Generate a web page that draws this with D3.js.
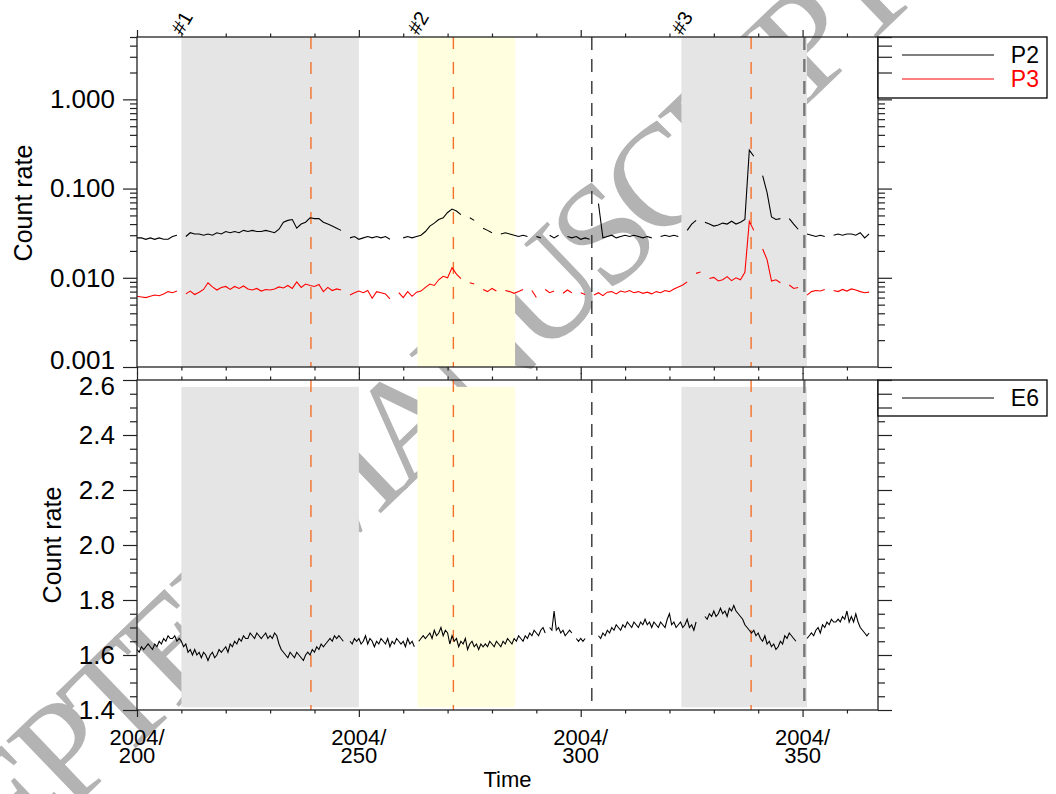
<!DOCTYPE html>
<html>
<head>
<meta charset="utf-8">
<title>Count rates P2, P3, E6</title>
<script src="https://cdn.jsdelivr.net/npm/d3@7"></script>
<style>
  body { margin: 0; background: #fff; }
  svg { display: block; font-family: 'Liberation Sans', Arial, Helvetica, sans-serif; }
  .axis path.domain { display: none; }
  .axis line { stroke: #222; stroke-width: 1.2; }
  .axis text { font-size: 26px; fill: #000; }
  .frame { fill: none; stroke: #222; stroke-width: 1.3; }
</style>
</head>
<body>
<div id="chart"></div>
<script>

// ---- data (day of year 2004) ----
var dayStart = 200;           // P2 / P3 are daily, first value is day 200
var e6Step = 0.5;             // E6 is every half day, first value is day 200

var p2 = [
  0.028,0.028,0.027,0.028,0.027,0.028,0.027,0.027,0.029,0.030,
  null,0.029,0.032,0.031,0.031,0.030,0.031,0.030,0.032,0.031,
  0.033,0.032,0.033,0.032,0.034,0.033,0.034,0.033,0.033,0.034,
  0.033,0.032,0.035,0.042,0.044,0.045,0.036,0.040,0.042,0.047,
  0.046,0.046,0.042,0.040,0.038,0.036,0.034,null,0.028,0.029,
  0.027,0.028,0.029,0.028,0.029,0.028,0.029,0.027,null,null,
  0.028,0.029,0.028,0.029,0.030,0.033,0.038,0.041,0.045,0.047,
  0.054,0.059,0.056,0.051,null,0.047,0.044,null,0.036,0.034,
  0.032,null,0.031,0.032,0.031,0.030,0.029,0.030,0.029,null,
  0.029,0.028,null,0.030,0.028,0.030,null,0.029,0.028,0.029,
  0.027,0.028,0.027,null,0.068,0.028,0.029,0.030,0.028,0.029,
  0.030,0.029,0.030,0.029,0.028,0.029,0.028,null,0.029,0.030,
  0.029,0.030,0.029,null,0.034,0.040,0.044,null,0.042,0.040,
  0.038,0.039,0.041,0.040,0.043,0.040,0.042,0.045,0.27,0.23,
  null,0.14,0.09,0.048,0.045,0.046,null,0.046,0.040,0.035,
  null,0.031,0.030,0.029,0.030,0.029,null,0.030,0.031,0.030,
  0.031,0.031,0.030,0.032,0.028,0.031,null
];

var p3 = [
  0.0062,0.0061,0.0060,0.0062,0.0064,0.0063,0.0066,0.0070,0.0068,0.0071,
  null,0.0066,0.0071,0.0065,0.0069,0.0074,0.0088,0.0079,0.0073,0.0078,
  0.0080,0.0074,0.0080,0.0076,0.0081,0.0075,0.0073,0.0076,0.0071,0.0074,
  0.0073,0.0075,0.0079,0.0077,0.0082,0.0076,0.0090,0.0078,0.0085,0.0082,
  0.0080,0.0084,0.0070,0.0078,0.0072,0.0075,0.0073,null,0.0064,0.0068,
  0.0071,0.0068,0.0072,0.0059,0.0070,0.0068,0.0066,0.0058,null,0.0068,
  0.0060,0.0070,0.0062,0.0069,0.0071,0.0078,0.0085,0.0082,0.0095,0.0104,
  0.0100,0.0130,0.0110,0.0098,null,0.0088,0.0085,null,0.0074,0.0070,
  0.0076,0.0071,null,0.0072,0.0070,0.0067,0.0070,0.0074,null,0.0072,
  0.0060,null,0.0074,0.0068,0.0071,null,0.0067,0.0073,0.0068,null,
  0.0068,0.0065,null,0.0064,0.0068,0.0063,0.0069,0.0070,0.0066,0.0071,
  0.0069,0.0072,0.0068,0.0070,0.0067,0.0069,0.0066,0.0070,0.0068,0.0072,
  0.0070,0.0075,0.0079,0.0083,0.0090,null,0.0112,0.0116,null,0.0098,
  0.0101,0.0092,0.0095,0.0103,0.0093,0.0100,0.0095,0.0115,0.043,0.034,
  null,0.021,0.016,0.0092,0.0095,0.0088,null,0.0083,0.0076,0.0078,
  null,0.0064,0.0070,0.0072,0.0071,0.0074,null,0.0072,0.0070,0.0074,
  0.0071,0.0075,0.0073,0.0070,0.0068,0.0069,null
];

var e6 = [
  1.62,1.61,1.63,1.62,1.63,1.64,1.63,1.62,1.64,1.63,
  1.65,1.64,1.66,1.65,1.67,1.66,1.66,1.67,1.65,1.66,
  1.65,1.63,1.64,1.61,1.62,1.60,1.62,1.60,1.61,1.59,
  1.61,1.60,1.58,1.60,1.61,1.59,1.60,1.62,1.61,1.62,
  1.63,1.61,1.64,1.63,1.65,1.64,1.66,1.65,1.67,1.66,
  1.66,1.68,1.67,1.66,1.68,1.67,1.66,1.67,1.68,1.66,
  1.67,1.66,1.68,1.67,1.64,1.62,1.61,1.60,1.59,1.61,
  1.60,1.59,1.61,1.60,1.59,1.58,1.60,1.61,1.60,1.62,
  1.61,1.63,1.62,1.64,1.63,1.64,1.65,1.66,1.65,1.67,
  1.66,1.67,1.66,1.65,null,null,1.65,1.64,1.66,1.65,
  1.66,1.64,1.65,1.67,1.64,1.66,1.65,1.63,1.65,1.64,
  1.66,1.65,1.64,1.66,1.63,1.65,1.64,1.66,1.65,1.64,
  1.65,1.63,1.66,1.64,1.65,1.63,null,1.65,1.66,1.67,
  1.66,1.67,1.68,1.66,1.69,1.67,1.68,1.70,1.67,1.69,
  1.68,1.64,1.67,1.65,1.66,1.63,1.65,1.64,1.66,1.62,
  1.64,1.65,1.63,1.64,1.62,1.64,1.63,1.64,1.63,1.65,
  1.64,1.63,1.65,1.64,1.63,1.65,1.64,1.66,1.65,1.64,
  1.66,1.65,1.67,1.66,1.65,1.67,1.66,1.68,1.67,1.69,
  1.68,1.67,1.69,1.70,1.68,null,1.70,1.69,1.76,1.69,
  1.70,1.68,1.69,1.67,1.68,1.69,1.68,null,1.66,1.65,
  1.66,1.65,1.66,null,null,null,null,null,1.67,1.66,
  1.68,1.67,1.69,1.68,1.70,1.69,1.71,1.70,1.69,1.71,
  1.70,1.72,1.71,1.70,1.72,1.71,1.70,1.72,1.71,1.73,
  1.71,1.72,1.70,1.72,1.71,1.70,1.72,1.71,1.70,1.73,
  1.75,1.71,1.72,1.70,1.71,1.72,1.70,1.71,1.73,1.70,
  1.71,1.69,1.72,null,null,null,1.74,1.73,1.75,1.74,
  1.76,1.74,1.75,1.77,1.75,1.76,1.74,1.77,1.76,1.78,
  1.76,1.75,1.74,1.73,1.71,1.70,1.69,1.68,1.69,1.67,
  1.68,1.66,1.65,1.67,1.64,1.65,1.63,1.64,1.62,1.63,
  1.65,1.64,1.67,1.66,1.68,1.67,1.66,1.65,null,null,
  null,null,1.66,1.67,1.68,1.67,1.69,1.70,1.68,1.71,
  1.70,1.72,1.71,1.73,1.72,1.72,1.73,1.72,1.74,1.73,
  1.76,1.72,1.74,1.72,1.75,1.72,1.70,1.69,1.68,1.67,
  1.68
];

// event intervals (#1, #2, #3) and marker days
var eventNames = ['#1', '#2', '#3'];
var eventStart = [210, 263.2, 322.7];
var eventEnd   = [250, 285.2, 351];
var shockDays  = [239.2, 271.3, 338.4];   // orange dashed
var otherDays  = [302.5, 350.4];          // dark dashed

var xMajor = [200, 250, 300, 350];
var topMajor = [0.001, 0.01, 0.1, 1];
var botMajor = [1.4, 1.6, 1.8, 2.0, 2.2, 2.4, 2.6];

// ---- layout ----
var W = 1056, H = 794,
    left = 137, right = 878,
    top1 = 37, bot1 = 367,
    top2 = 380, bot2 = 710;

var shadeFill = ['#e5e5e5', '#ffffe0', '#e5e5e5'];
var otherColor = ['#333', '#777'];
var otherWidth = [1.4, 2.4];

var x = d3.scaleLinear().domain([200, 367]).range([left, right]);
var yTop = d3.scaleLog().domain([0.001, 5]).range([bot1, top1]);
var yBot = d3.scaleLinear().domain([1.4, 2.6]).range([bot2, top2]);

var svg = d3.select('#chart').append('svg')
    .attr('width', W)
    .attr('height', H);

// watermark (sits under everything else)
svg.append('text')
    .attr('transform', 'translate(-179.5,1050.6) rotate(-43.8)')
    .attr('font-family', "'Liberation Serif', 'Times New Roman', serif")
    .attr('font-size', 145)
    .style('letter-spacing', '-10.6px')
    .attr('fill', '#b3b3b3')
    .text('ACCEPTED MANUSCRIPT');

// shading
function shade(y0, y1) {
  eventStart.forEach(function (s, i) {
    svg.append('rect')
        .attr('x', x(s))
        .attr('y', y0)
        .attr('width', x(eventEnd[i]) - x(s))
        .attr('height', y1 - y0)
        .attr('fill', shadeFill[i]);
  });
}
shade(top1, bot1);
shade(yBot(2.575), yBot(1.41));

// vertical markers
function markers(y0, y1) {
  shockDays.forEach(function (d) {
    svg.append('line')
        .attr('x1', x(d)).attr('x2', x(d))
        .attr('y1', y0).attr('y2', y1)
        .attr('stroke', '#f5702a')
        .attr('stroke-width', 1.4)
        .attr('stroke-dasharray', '12,13');
  });
  otherDays.forEach(function (d, i) {
    svg.append('line')
        .attr('x1', x(d)).attr('x2', x(d))
        .attr('y1', y0).attr('y2', y1)
        .attr('stroke', otherColor[i])
        .attr('stroke-width', otherWidth[i])
        .attr('stroke-dasharray', '13,9');
  });
}
markers(top1, bot1);
markers(top2, bot2);

// data lines
function daily(vals) {
  return vals.map(function (v, i) { return { d: dayStart + i, v: v }; });
}
var e6pts = e6.map(function (v, i) { return { d: dayStart + i * e6Step, v: v }; });

var lineTop = d3.line()
    .defined(function (p) { return p.v != null; })
    .x(function (p) { return x(p.d); })
    .y(function (p) { return yTop(p.v); });
var lineBot = d3.line()
    .defined(function (p) { return p.v != null; })
    .x(function (p) { return x(p.d); })
    .y(function (p) { return yBot(p.v); });

svg.append('path').datum(daily(p2))
    .attr('d', lineTop).attr('fill', 'none').attr('stroke', '#000').attr('stroke-width', 1.1);
svg.append('path').datum(daily(p3))
    .attr('d', lineTop).attr('fill', 'none').attr('stroke', '#f00').attr('stroke-width', 1.1);
svg.append('path').datum(e6pts)
    .attr('d', lineBot).attr('fill', 'none').attr('stroke', '#000').attr('stroke-width', 1.1);

// ---- axes ----
var xMinor = d3.range(200, 368, 10).filter(function (d) { return xMajor.indexOf(d) < 0; });
var topMinor = [];
[0.001, 0.01, 0.1, 1].forEach(function (dec) {
  for (var k = 2; k <= 9; k++) if (dec * k <= 5) topMinor.push(dec * k);
});
var botMinor = d3.range(1.45, 2.6, 0.05).filter(function (v) {
  return Math.abs(Math.round(v * 5) - v * 5) > 0.01;
});

function addAxis(axis, tx, ty) {
  return svg.append('g').attr('class', 'axis')
      .attr('transform', 'translate(' + tx + ',' + ty + ')')
      .call(axis);
}

// x ticks on all four horizontal edges
[[d3.axisTop, top1], [d3.axisBottom, bot1], [d3.axisTop, top2], [d3.axisBottom, bot2]].forEach(function (a) {
  addAxis(a[0](x).tickValues(xMajor).tickSize(7).tickFormat(''), 0, a[1]);
  addAxis(a[0](x).tickValues(xMinor).tickSize(3.5).tickFormat(''), 0, a[1]);
});

// y axes, top panel (log)
var gTop = addAxis(d3.axisLeft(yTop).tickValues(topMajor).tickSize(14).tickPadding(8).tickFormat(d3.format('.3f')), left, 0);
addAxis(d3.axisLeft(yTop).tickValues(topMinor).tickSize(7).tickFormat(''), left, 0);
addAxis(d3.axisRight(yTop).tickValues(topMajor).tickSize(14).tickFormat(''), right, 0);
addAxis(d3.axisRight(yTop).tickValues(topMinor).tickSize(7).tickFormat(''), right, 0);

// y axes, bottom panel (linear)
var gBot = addAxis(d3.axisLeft(yBot).tickValues(botMajor).tickSize(14).tickPadding(8).tickFormat(d3.format('.1f')), left, 0);
addAxis(d3.axisLeft(yBot).tickValues(botMinor).tickSize(7).tickFormat(''), left, 0);
addAxis(d3.axisRight(yBot).tickValues(botMajor).tickSize(14).tickFormat(''), right, 0);
addAxis(d3.axisRight(yBot).tickValues(botMinor).tickSize(7).tickFormat(''), right, 0);

// nudge the two labels that meet between the panels
gTop.selectAll('.tick text').filter(function (d) { return d === 0.001; }).attr('dy', '0.05em');
gBot.selectAll('.tick text').filter(function (d) { return d === 2.6; }).attr('dy', '0.55em');

// frames
svg.append('rect').attr('class', 'frame')
    .attr('x', left).attr('y', top1).attr('width', right - left).attr('height', bot1 - top1);
svg.append('rect').attr('class', 'frame')
    .attr('x', left).attr('y', top2).attr('width', right - left).attr('height', bot2 - top2);

// date labels under the bottom panel
xMajor.forEach(function (d) {
  var t = svg.append('text')
      .attr('text-anchor', 'middle')
      .attr('font-size', 22)
      .attr('x', x(d)).attr('y', 745);
  t.append('tspan').attr('x', x(d)).text('2004/');
  t.append('tspan').attr('x', x(d)).attr('dy', 18).text(d);
});

svg.append('text')
    .attr('x', (left + right) / 2).attr('y', 787)
    .attr('text-anchor', 'middle')
    .attr('font-size', 22)
    .text('Time');

svg.append('text')
    .attr('transform', 'translate(32,' + ((top1 + bot1) / 2 + 1) + ') rotate(-90)')
    .attr('text-anchor', 'middle')
    .attr('font-size', 25)
    .text('Count rate');
svg.append('text')
    .attr('transform', 'translate(61,' + ((top2 + bot2) / 2) + ') rotate(-90)')
    .attr('text-anchor', 'middle')
    .attr('font-size', 25)
    .text('Count rate');

// event labels
eventNames.forEach(function (n, i) {
  svg.append('text')
      .attr('transform', 'translate(' + (x(eventStart[i]) + 1) + ',' + (top1 - 1) + ') rotate(-60)')
      .attr('font-size', 20)
      .text(n);
});

// legends
function legend(y0, h, names, colors) {
  svg.append('rect')
      .attr('x', right).attr('y', y0)
      .attr('width', 1047 - right).attr('height', h)
      .attr('fill', '#fff').attr('stroke', '#000').attr('stroke-width', 1.3);
  names.forEach(function (n, i) {
    var ly = y0 + 18 + i * 24;
    svg.append('line')
        .attr('x1', 902).attr('x2', 994)
        .attr('y1', ly).attr('y2', ly)
        .attr('stroke', colors[i]).attr('stroke-width', 1.2);
    svg.append('text')
        .attr('x', 1039).attr('y', ly + 8)
        .attr('text-anchor', 'end')
        .attr('font-size', 23)
        .attr('fill', colors[i])
        .text(n);
  });
}
legend(top1, 61, ['P2', 'P3'], ['#000', '#f00']);
legend(top2, 36, ['E6'], ['#000']);

// right-axis ticks show through the legend boxes
addAxis(d3.axisRight(yTop).tickValues(topMajor.concat(topMinor).filter(function (v) { return yTop(v) < top1 + 61; })).tickSize(14).tickFormat(''), right, 0);
addAxis(d3.axisRight(yBot).tickValues([2.6, 2.55, 2.5]).tickSize(14).tickFormat(''), right, 0);

</script>
</body>
</html>
